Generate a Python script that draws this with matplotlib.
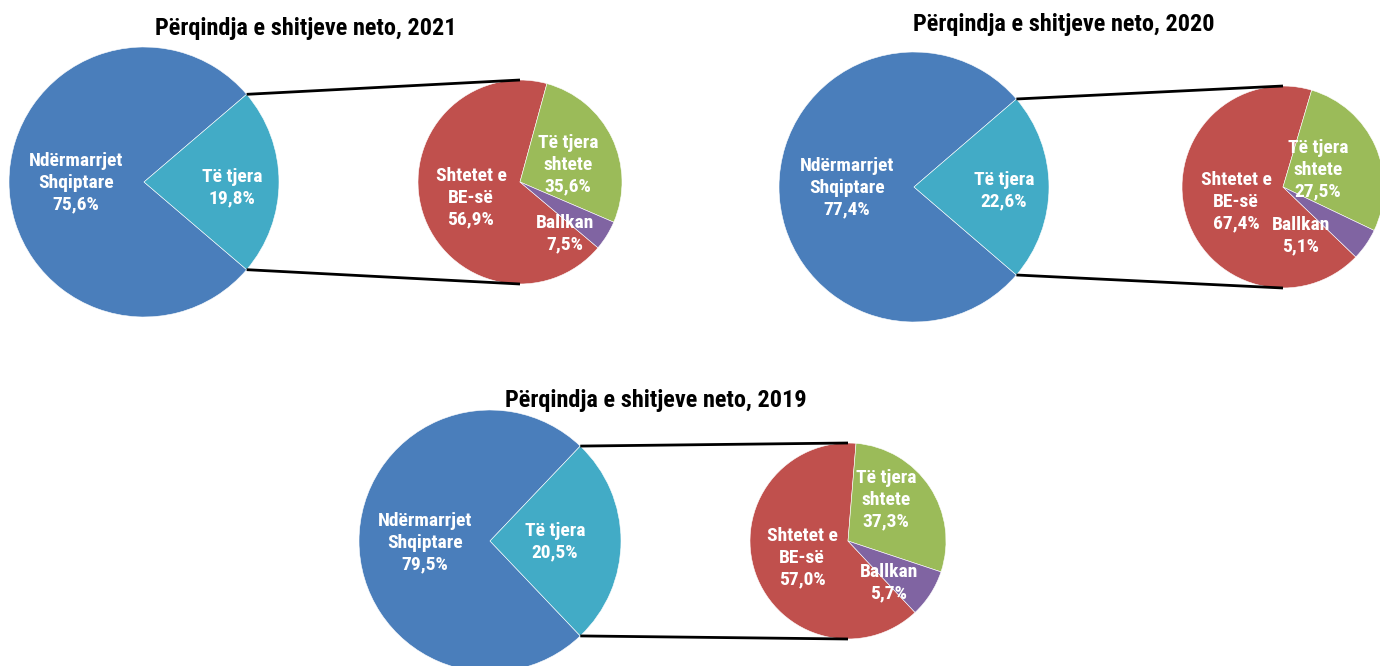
import numpy as np
import matplotlib
matplotlib.use("Agg")
import matplotlib.pyplot as plt

# printed labels (percent)
years = ['2021', '2020', '2019']
ndermarrjet_pct = [75.6, 77.4, 79.5]
te_tjera_pct = [19.8, 22.6, 20.5]
be_pct = [56.9, 67.4, 57.0]
shtete_pct = [35.6, 27.5, 37.3]
ballkan_pct = [7.5, 5.1, 5.7]

# slice sizes as they are drawn in the picture (not always equal to the labels)
te_tjera_drawn = [22.5, 22.6, 25.8]
be_drawn = [68.1, 67.4, 63.3]
shtete_drawn = [27.2, 27.5, 28.8]
ballkan_drawn = [4.7, 5.1, 7.9]

# layout in pixels (image coordinates, y down)
W, H = 1380, 666
main_centers = [(144, 182), (914, 187), (490, 541)]
main_r = [135, 135, 131]
sec_centers = [(520, 182), (1283, 187), (848, 541)]
sec_r = [102, 101, 98]
green_start = [15.3, 16.5, 4.7]  # degrees clockwise from top
title_pos = [(306, 28), (1064, 25), (656, 401)]
main_lbl_pos = [(76, 183), (847, 188), (425, 543)]
teal_lbl_pos = [(232, 188), (1004, 191), (555, 542)]
be_lbl_pos = [(471, 198), (1236, 202), (802, 558)]
shtete_lbl_pos = [(568, 165), (1318, 170), (886, 500)]
ballkan_lbl_pos = [(565, 234), (1301, 236), (889, 583)]

BLUE = '#4A7EBB'
TEAL = '#42ABC6'
RED = '#C0504D'
GREEN = '#9BBB59'
PURPLE = '#8064A2'
FONT = ['Roboto Condensed', 'DejaVu Sans']


def pct(v):
    return f"{v:.1f}".replace('.', ',') + '%'


def Y(y):
    return H - y


fig = plt.figure(figsize=(W / 100, H / 100), dpi=100)
ax = fig.add_axes([0, 0, 1, 1])

for i in range(3):
    mx, my = main_centers[i]
    sx, sy = sec_centers[i]
    teal = te_tjera_drawn[i]
    teal_deg = teal * 3.6

    ax.pie([100 - teal, teal], colors=[BLUE, TEAL], startangle=teal_deg / 2,
           center=(mx, Y(my)), radius=main_r[i],
           wedgeprops=dict(edgecolor='white', linewidth=0.4))

    sec_vals = [be_drawn[i], shtete_drawn[i], ballkan_drawn[i]]
    red_deg = be_drawn[i] / sum(sec_vals) * 360
    ax.pie(sec_vals, colors=[RED, GREEN, PURPLE], counterclock=False,
           startangle=90 - green_start[i] + red_deg,
           center=(sx, Y(sy)), radius=sec_r[i],
           wedgeprops=dict(edgecolor='white', linewidth=0.4))

    # connector lines
    a = np.deg2rad(teal_deg / 2)
    px = mx + main_r[i] * np.cos(a)
    for sgn in (1, -1):
        ax.plot([px, sx], [Y(my) + sgn * main_r[i] * np.sin(a), Y(sy) + sgn * sec_r[i]],
                color='black', lw=2, solid_capstyle='butt', zorder=3)

    tx, ty = title_pos[i]
    ax.text(tx, Y(ty), f"Përqindja e shitjeve neto, {years[i]}", ha='center', va='center',
            fontsize=17.5, fontweight='bold', family=FONT, color='black')

    lbls = [
        (main_lbl_pos[i], 'Ndërmarrjet\nShqiptare\n' + pct(ndermarrjet_pct[i])),
        (teal_lbl_pos[i], 'Të tjera\n' + pct(te_tjera_pct[i])),
        (be_lbl_pos[i], 'Shtetet e\nBE-së\n' + pct(be_pct[i])),
        (shtete_lbl_pos[i], 'Të tjera\nshtete\n' + pct(shtete_pct[i])),
        (ballkan_lbl_pos[i], 'Ballkan\n' + pct(ballkan_pct[i])),
    ]
    for (lx, ly), s in lbls:
        ax.text(lx, Y(ly), s, ha='center', va='center', multialignment='center',
                fontsize=14, fontweight='bold', family=FONT, color='white',
                linespacing=1.26, zorder=4)

ax.set_xlim(0, W)
ax.set_ylim(0, H)
ax.set_aspect('auto')
ax.axis('off')

plt.savefig('out.png', dpi=100)
plt.close()
